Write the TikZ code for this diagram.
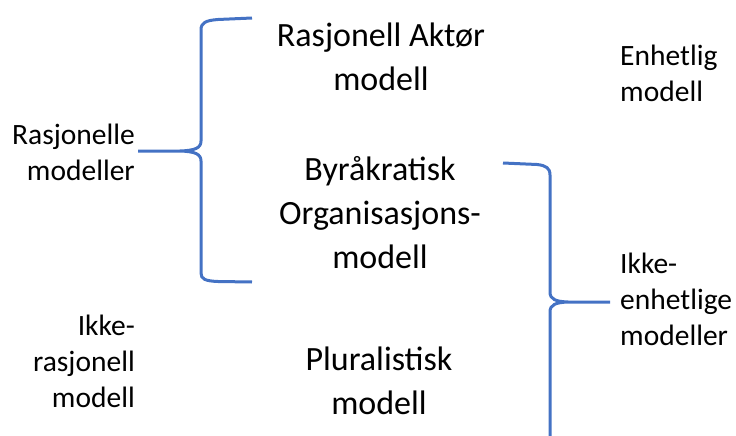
\documentclass[tikz,border=0pt]{standalone}
\usepackage{fontspec}
\setmainfont{Carlito}
\definecolor{bracketblue}{HTML}{4472C4}

\begin{document}
\begin{tikzpicture}[
  x = 1pt,
  y = -1pt,
  model/.style = {align = center, inner sep = 0pt,
    font = \fontsize{34}{44}\selectfont},
  group/.style = {inner sep = 0pt,
    font = \fontsize{29.5}{36}\selectfont},
  bracket/.style = {draw = bracketblue, line width = 3pt},
  ]

  \useasboundingbox (0, 0) rectangle (736, 436);

  \node at (381, 57)
  [model, name = Aktor] {Rasjonell Aktør\\modell};

  \node at (380, 213)
  [model, name = Byrakratisk] {Byråkratisk\\Organisasjons-\\modell};

  \node at (379, 381)
  [model, name = Pluralistisk] {Pluralistisk\\modell};

  \node at (135, 152)
  [group, align = right, anchor = east, name = Rasjonelle] {Rasjonelle\\modeller};

  \node at (135, 361)
  [group, align = right, anchor = east, name = Ikkerasjonell] {Ikke-\\rasjonell\\modell};

  \node at (620, 73)
  [group, align = left, anchor = west, name = Enhetlig] {Enhetlig\\modell};

  \node at (620, 299)
  [group, align = left, anchor = west, name = Ikkeenhetlige] {Ikke-\\enhetlige\\modeller};

  % left bracket
  \draw [bracket] (252, 18) -- (218, 19.5)
    .. controls (205, 20.5) and (201, 23) .. (201, 30) -- (201, 141)
    .. controls (201, 148) and (195, 150.5) .. (180, 151) -- (138, 151)
    (180, 151) .. controls (195, 151.5) and (201, 154) .. (201, 161)
    -- (201, 273) .. controls (201, 279) and (205, 281) .. (218, 281.5)
    -- (252, 282);

  % right bracket
  \draw [bracket] (503, 163) -- (537, 164.5)
    .. controls (546, 165.5) and (550, 168) .. (550, 175) -- (550, 292)
    .. controls (550, 299) and (555, 301.5) .. (568, 302) -- (610, 302)
    (568, 302) .. controls (555, 302.5) and (550, 305) .. (550, 312)
    -- (550, 436);

\end{tikzpicture}
\end{document}
